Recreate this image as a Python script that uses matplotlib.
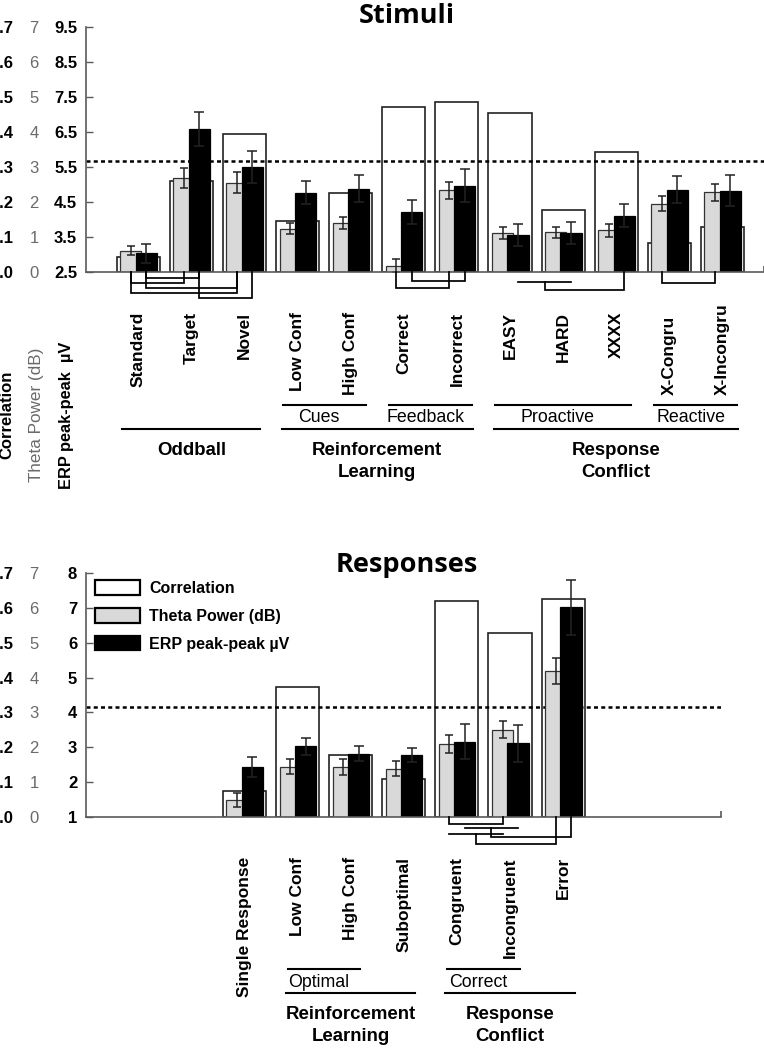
import matplotlib
matplotlib.use("Agg")
import matplotlib.pyplot as plt
from matplotlib.patches import Patch
from matplotlib.lines import Line2D
from matplotlib import transforms
import numpy as np

# ---------------- data ----------------
cats_top = ["Standard", "Target", "Novel", "Low Conf", "High Conf", "Correct",
            "Incorrect", "EASY", "HARD", "XXXX", "X-Congru", "X-Incongru"]
pos_top = [0, 1, 2, 3, 4, 5, 6, 7, 8, 9, 10, 11]
corr_top = [0.044, 0.261, 0.393, 0.146, 0.225, 0.471, 0.485, 0.453, 0.177, 0.342, 0.083, 0.129]
theta_top = [0.61, 2.69, 2.55, 1.24, 1.40, 0.18, 2.33, 1.11, 1.13, 1.19, 1.95, 2.28]
theta_err_top = [0.13, 0.28, 0.30, 0.15, 0.18, 0.19, 0.25, 0.17, 0.16, 0.19, 0.22, 0.24]
erp_top = [3.03, 6.59, 5.51, 4.77, 4.88, 4.21, 4.97, 3.56, 3.61, 4.11, 4.85, 4.82]
erp_err_top = [0.27, 0.48, 0.46, 0.34, 0.39, 0.34, 0.48, 0.31, 0.31, 0.33, 0.39, 0.44]

cats_bot = ["Single Response", "Low Conf", "High Conf", "Suboptimal",
            "Congruent", "Incongruent", "Error"]
pos_bot = [2, 3, 4, 5, 6, 7, 8]
corr_bot = [0.074, 0.373, 0.178, 0.108, 0.619, 0.527, 0.625]
theta_bot = [0.49, 1.44, 1.43, 1.39, 2.09, 2.50, 4.18]
theta_err_bot = [0.20, 0.21, 0.22, 0.21, 0.26, 0.24, 0.37]
erp_bot = [2.44, 3.03, 2.82, 2.77, 3.16, 3.11, 7.02]
erp_err_bot = [0.29, 0.24, 0.22, 0.20, 0.51, 0.53, 0.79]

corr_threshold = 0.316

erp_ticks_top = [2.5, 3.5, 4.5, 5.5, 6.5, 7.5, 8.5, 9.5]
erp_ticks_bot = [1, 2, 3, 4, 5, 6, 7, 8]
theta_ticks = [0, 1, 2, 3, 4, 5, 6, 7]
corr_ticks = [0.0, 0.1, 0.2, 0.3, 0.4, 0.5, 0.6, 0.7]

series_names = ["Correlation", "Theta Power (dB)", "ERP peak-peak \u00b5V"]

# significance brackets: (kind, a, b, depth in px below the axis)
brackets_top = [
    ("pair", (0, 'k'), (1, 'k'), 6.3),
    ("pair", (0, 'g'), (1, 'g'), 10.7),
    ("pair", (0, 'k'), (2, 'g'), 15.7),
    ("pair", (0, 'g'), (2, 'g'), 20.7),
    ("pair", (1, 'k'), (2, 'k'), 26.3),
    ("pair", (5, 'k'), (6, 'k'), 9.0),
    ("pair", (5, 'g'), (6, 'g'), 15.7),
    ("group", (7, 'k'), (8, 'k'), 9.7),
    ("hang", 7, (9, 'k'), 18.3),
    ("pair", (10, 'g'), (11, 'g'), 10.7),
]
brackets_bot = [
    ("pair", (6, 'g'), (7, 'g'), 6.7),
    ("group", (6, 'k'), (7, 'k'), 11.0),
    ("group", (6, 'g'), (7, 'g'), 16.7),
    ("hang", 1, (8, 'k'), 20.0),
    ("hang", 2, (8, 'g'), 27.3),
]

top_sub = [(3, 4, "Cues"), (5, 6, "Feedback"), (7, 9, "Proactive"), (10, 11, "Reactive")]
top_main = [(0, 2, "Oddball"), (3, 6, "Reinforcement\nLearning"), (7, 11, "Response\nConflict")]
bot_sub = [(3, 4, "Optimal"), (6, 7, "Correct")]
bot_main = [(3, 5, "Reinforcement\nLearning"), (6, 8, "Response\nConflict")]

# ---------------- style ----------------
plt.rcParams['font.family'] = ['Liberation Sans', 'DejaVu Sans']
W, H, DPI = 764, 1050, 100
GRAY_OFF, BLACK_OFF = -0.14, 0.15
W_WHITE, W_BAR = 0.81, 0.40
SPINE = '#5a5a5a'
GRAYFILL = '#d9d9d9'
PXU = 53.1  # px per category unit

fig = plt.figure(figsize=(W / DPI, H / DPI), dpi=DPI)


def fx(px):
    return px / W


def fy(px):
    return 1 - px / H


def sx(i, s):
    return i + (GRAY_OFF if s == 'g' else BLACK_OFF)


def panel(top_px, bot_px, right_px, cats, pos, corr, theta, theta_err, erp, erp_err,
          erp_ticks, brackets, subs, mains, sub_y, main_y, sub_pad, main_pad,
          label_top, label_bottom_aligned=(), label_bottom_y=None):
    left_px = 86
    rect = [fx(left_px), fy(bot_px), (right_px - left_px) / W, (bot_px - top_px) / H]
    ax_h = bot_px - top_px
    xlim = (-0.985, -0.985 + (right_px - left_px) / PXU)
    ax_c = fig.add_axes(rect)
    ax_t = fig.add_axes(rect, sharex=ax_c)
    ax_e = fig.add_axes(rect, sharex=ax_c)
    for a in (ax_t, ax_e):
        a.patch.set_visible(False)
    for a in (ax_c, ax_t, ax_e):
        for s in a.spines.values():
            s.set_visible(False)
    pos = np.array(pos, dtype=float)
    base = erp_ticks[0]

    ax_c.bar(pos, corr, width=W_WHITE, color='white', edgecolor='#222222', lw=1.2, zorder=1)
    ax_c.axhline(corr_threshold, color='black', lw=1.8, ls=(0, (1.6, 1.3)), zorder=2)
    ax_t.bar(pos + GRAY_OFF, theta, width=W_BAR, color=GRAYFILL, edgecolor='#333333', lw=0.9,
             yerr=theta_err, capsize=3.2,
             error_kw=dict(ecolor='#222222', elinewidth=1.1, capthick=1.1))
    ax_e.bar(pos + BLACK_OFF, np.array(erp) - base, bottom=base, width=W_BAR, color='black',
             edgecolor='black', lw=0.9, yerr=erp_err, capsize=3.3,
             error_kw=dict(ecolor='#222222', elinewidth=1.1, capthick=1.1))

    ax_c.set_ylim(0, 0.7)
    ax_t.set_ylim(0, 7)
    ax_e.set_ylim(erp_ticks[0], erp_ticks[-1])

    ax_e.spines['left'].set_visible(True)
    ax_e.spines['bottom'].set_visible(True)
    for s in ('left', 'bottom'):
        ax_e.spines[s].set_color(SPINE)
        ax_e.spines[s].set_linewidth(1.2)

    ax_e.set_yticks(erp_ticks, [("%g" % v if base == 1 else "%.1f" % v) for v in erp_ticks])
    ax_e.tick_params(axis='y', direction='in', length=5, width=1, color=SPINE, pad=6.3,
                     labelsize=12)
    for lab in ax_e.get_yticklabels():
        lab.set_fontweight('bold')
    ax_t.set_yticks(theta_ticks, [str(v) for v in theta_ticks])
    ax_t.tick_params(axis='y', length=0, pad=34, labelsize=12, labelcolor='#6a6a6a')
    ax_c.set_yticks(corr_ticks, ["%.1f" % v for v in corr_ticks])
    ax_c.tick_params(axis='y', length=0, pad=52.5, labelsize=12)
    for lab in ax_c.get_yticklabels():
        lab.set_fontweight('bold')

    ax_e.set_xticks(pos, [''] * len(pos))
    ax_e.set_xticks([xlim[1]], minor=True)
    ax_e.tick_params(axis='x', which='major', length=0)
    ax_e.tick_params(axis='x', which='minor', direction='in', length=4, color=SPINE, width=1.2)
    for a in (ax_c, ax_t):
        a.tick_params(axis='x', which='both', bottom=False, labelbottom=False)

    tf = transforms.blended_transform_factory(ax_e.transData, fig.transFigure)

    # category labels
    for k, (p, name) in enumerate(zip(pos, cats)):
        if k in label_bottom_aligned:
            fig.text(p, fy(label_bottom_y), name, transform=tf, rotation=90, ha='center',
                     va='bottom', fontsize=12.5, fontweight='bold')
        else:
            fig.text(p, fy(label_top), name, transform=tf, rotation=90, ha='center',
                     va='top', fontsize=12.5, fontweight='bold')

    # significance brackets
    tb = transforms.blended_transform_factory(ax_e.transData, ax_e.transAxes)

    def xmid(br):
        return (sx(*br[1]) + sx(*br[2])) / 2

    for kind, a, b, lvl in brackets:
        if kind == "pair":
            xs = [sx(*a), sx(*a), sx(*b), sx(*b)]
            ys = [0, -lvl, -lvl, 0]
        elif kind == "group":
            xs = [sx(*a), sx(*b)]
            ys = [-lvl, -lvl]
        else:
            src = brackets[a]
            xm = xmid(src)
            xs = [xm, xm, sx(*b), sx(*b)]
            ys = [-src[3], -lvl, -lvl, 0]
        fig.add_artist(Line2D(xs, [y / ax_h for y in ys], transform=tb, color='black',
                              lw=1.25, clip_on=False, solid_joinstyle='miter'))

    # grouping lines and labels
    for i0, i1, name in subs:
        fig.add_artist(Line2D([i0 - sub_pad, i1 + sub_pad], [fy(sub_y), fy(sub_y)], transform=tf,
                              color='black', lw=1.5, clip_on=False))
        fig.text((i0 + i1) / 2 - 0.1, fy(sub_y + 13), name, transform=tf, ha='center',
                 va='center', fontsize=12.8)
    for i0, i1, name in mains:
        fig.add_artist(Line2D([i0 - main_pad, i1 + main_pad], [fy(main_y), fy(main_y)], transform=tf,
                              color='black', lw=1.5, clip_on=False))
        fig.text((i0 + i1) / 2, fy(main_y + 12.5), name, transform=tf, ha='center',
                 va='top', fontsize=13.4, fontweight='bold', linespacing=1.38)

    ax_c.set_xlim(xlim)
    return ax_c, ax_t, ax_e


panel(27, 272, 764, cats_top, pos_top, corr_top, theta_top, theta_err_top, erp_top, erp_err_top,
      erp_ticks_top, brackets_top, top_sub, top_main, 405, 429.3, 0.28, 0.3,
      label_top=312, label_bottom_aligned=(10, 11), label_bottom_y=395)
_, _, axb = panel(573, 817, 721, cats_bot, pos_bot, corr_bot, theta_bot, theta_err_bot, erp_bot,
                  erp_err_bot, erp_ticks_bot, brackets_bot, bot_sub, bot_main, 969.3, 993.3,
                  0.18, 0.22, label_top=857)

# titles
fig.text(fx(407), fy(16), "Stimuli", ha='center', va='center', fontsize=19.5,
         fontweight='bold', family=['Open Sans', 'DejaVu Sans'])
fig.text(fx(407), fy(565), "Responses", ha='center', va='center', fontsize=19.5,
         fontweight='bold', family=['Open Sans', 'DejaVu Sans'])

# left axis titles (top panel)
fig.text(fx(7), fy(415), series_names[0], rotation=90, ha='center', va='center',
         fontsize=12, fontweight='bold')
fig.text(fx(37), fy(415), series_names[1], rotation=90, ha='center', va='center',
         fontsize=12.3, color='#6a6a6a')
fig.text(fx(67), fy(415), series_names[2].replace(" \u00b5V", "  \u00b5V"), rotation=90,
         ha='center', va='center', fontsize=11.8, fontweight='bold')

# legend (bottom panel)
handles = [Patch(facecolor='white', edgecolor='black', lw=1.6),
           Patch(facecolor=GRAYFILL, edgecolor='black', lw=1.6),
           Patch(facecolor='black', edgecolor='black', lw=1.6)]
axb.legend(handles, series_names, loc='upper left', bbox_to_anchor=(fx(95), fy(580)),
           bbox_transform=fig.transFigure, frameon=False,
           prop=dict(weight='bold', size=11.5), handlelength=2.8, handleheight=1.05,
           handletextpad=0.6, labelspacing=0.75, borderpad=0, borderaxespad=0)

fig.savefig("out.png", dpi=DPI)
